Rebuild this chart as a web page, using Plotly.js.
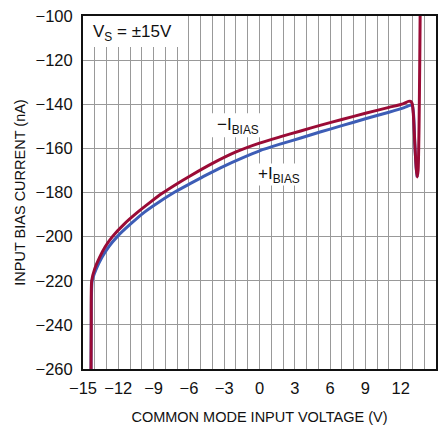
<!DOCTYPE html>
<html>
<head>
<meta charset="utf-8">
<script src="https://cdn.plot.ly/plotly-3.0.1.min.js"></script>
<style>html,body{margin:0;padding:0;background:#fff;}#chart{width:444px;height:425px;}</style>
</head>
<body>
<div id="chart"></div>
<script>
const negV = [-14.32, -14.3, -14.26, -14.0, -13.6, -13.1, -12.5, -11.5, -10.3, -9.3, -8.3, -7.0, -5.9, -4.0, -2.0, 0.0, 1.74, 3.5, 5.14, 7.0, 9.0, 11.0, 12.2, 12.65, 12.85, 12.98, 13.08, 13.2, 13.32, 13.4, 13.48, 13.56, 13.62, 13.66];
const negI = [-262, -240, -220, -214.5, -209.5, -204.5, -200, -194.3, -188.7, -184.5, -180.5, -176, -172.5, -166.8, -161.6, -157.6, -154.8, -152.1, -149.6, -146.9, -144.1, -141.4, -139.8, -138.7, -138.7, -139.8, -145, -158, -169, -173, -170, -150, -120, -95];
const posV = [-14.32, -14.3, -14.22, -13.9, -13.4, -12.8, -12.09, -11.0, -9.8, -8.5, -7.2, -5.9, -4.5, -3.0, -1.5, 0.0, 1.74, 3.5, 5.14, 7.0, 9.0, 11.0, 12.3, 12.8, 12.98, 13.1, 13.2, 13.32, 13.4];
const posI = [-262, -240, -220, -215, -209.5, -204.5, -200, -194.5, -189, -184.2, -179.8, -176, -172, -168, -164.4, -161.1, -158.1, -155.3, -152.6, -149.7, -146.6, -143.6, -141.5, -140.5, -140.5, -145, -158, -169, -173];
const xTicks = [-15, -12, -9, -6, -3, 0, 3, 6, 9, 12, 15];
const xTickText = ['\u221215', '\u221212', '\u22129', '\u22126', '\u22123', '0', '3', '6', '9', '12', '15'];
const yTicks = [-260, -240, -220, -200, -180, -160, -140, -120, -100];
const yTickText = ['\u2212260', '\u2212240', '\u2212220', '\u2212200', '\u2212180', '\u2212160', '\u2212140', '\u2212120', '\u2212100'];

const FONT = '"Liberation Sans", Arial, Helvetica, sans-serif';

const traces = [
  {x: posV, y: posI, mode: 'lines', line: {color: '#3d5db6', width: 3, shape: 'spline', smoothing: 0.6}, hoverinfo: 'none'},
  {x: negV, y: negI, mode: 'lines', line: {color: '#9a0b36', width: 3, shape: 'spline', smoothing: 0.6}, hoverinfo: 'none'}
];

const whiteBox = (x0, x1, y0, y1) => ({type: 'rect', xref: 'x', yref: 'y', x0: x0, x1: x1, y0: y0, y1: y1,
  fillcolor: '#fff', line: {width: 0}, layer: 'between'});

const layout = {
  width: 444, height: 425,
  margin: {l: 83, r: 8, t: 16, b: 56},
  paper_bgcolor: '#fff', plot_bgcolor: '#fff',
  showlegend: false,
  font: {family: FONT, size: 14, color: '#111'},
  xaxis: {
    range: [-15, 15], tickvals: xTicks, ticktext: xTickText,
    showgrid: true, gridcolor: '#999', gridwidth: 1,
    minor: {dtick: 1, tick0: -15, showgrid: true, gridcolor: '#999', gridwidth: 1},
    ticks: '', zeroline: false, ticklabelstandoff: 3,
    showline: true, linecolor: '#111', linewidth: 2, mirror: true,
    tickfont: {family: FONT, size: 16.5, color: '#111'},
    title: {text: 'COMMON MODE INPUT VOLTAGE (V)', font: {family: FONT, size: 14.5, color: '#111'}, standoff: 16}
  },
  yaxis: {
    range: [-260, -100], tickvals: yTicks, ticktext: yTickText,
    showgrid: true, gridcolor: '#999', gridwidth: 1,
    ticks: '', zeroline: false, ticklabelstandoff: 5,
    showline: true, linecolor: '#111', linewidth: 2, mirror: true,
    tickfont: {family: FONT, size: 16.5, color: '#111'},
    title: {text: 'INPUT BIAS CURRENT (nA)', font: {family: FONT, size: 14.5, color: '#111'}, standoff: 6}
  },
  shapes: [
    whiteBox(-15, -6.9, -114, -100),
    whiteBox(-4.04, 0.46, -155, -144.1),
    whiteBox(-0.56, 3.86, -176.8, -166.8)
  ],
  annotations: [
    {x: -14.3, y: -107.5, xref: 'x', yref: 'y', xanchor: 'left', yanchor: 'middle', showarrow: false,
     text: 'V<sub>S</sub> = \u00b115V', font: {family: FONT, size: 17, color: '#111'}},
    {x: -1.79, y: -150, xref: 'x', yref: 'y', xanchor: 'center', yanchor: 'middle', showarrow: false,
     text: '\u2212I<sub>BIAS</sub>', font: {family: FONT, size: 17, color: '#111'}},
    {x: 1.69, y: -172, xref: 'x', yref: 'y', xanchor: 'center', yanchor: 'middle', showarrow: false,
     text: '+I<sub>BIAS</sub>', font: {family: FONT, size: 17, color: '#111'}}
  ]
};

Plotly.newPlot('chart', traces, layout, {displayModeBar: false, staticPlot: true});
</script>
</body>
</html>
